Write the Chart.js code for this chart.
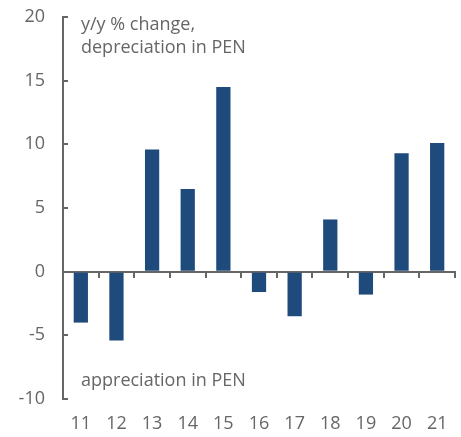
<!DOCTYPE html>
<html>
<head>
<meta charset="utf-8">
<script src="https://cdn.jsdelivr.net/npm/chart.js@4"></script>
<style>
  html, body { margin: 0; padding: 0; background: #fff; }
  #wrap { width: 461px; height: 437px; }
</style>
</head>
<body>
<div id="wrap"><canvas id="pen-chart"></canvas></div>
<script>
const years = ["11", "12", "13", "14", "15", "16", "17", "18", "19", "20", "21"];
const penChange = [-4.0, -5.4, 9.6, 6.5, 14.5, -1.6, -3.5, 4.1, -1.8, 9.3, 10.1];
const yTicks = [-10, -5, 0, 5, 10, 15, 20];
const topNote = ["y/y % change,", "depreciation in PEN"];
const bottomNote = "appreciation in PEN";

const grey = "#666666";
const textGrey = "#666666";
const font = { family: "Open Sans", size: 18 };

// annotation texts inside the plot
const notes = {
  id: "notes",
  afterDraw(chart) {
    const { ctx, chartArea, scales } = chart;
    ctx.save();
    ctx.fillStyle = textGrey;
    ctx.font = "18px 'Open Sans'";
    ctx.textBaseline = "middle";
    const x = chartArea.left + 18;
    topNote.forEach((t, i) => ctx.fillText(t, x, chartArea.top + 8 + i * 23));
    ctx.fillText(bottomNote, x, scales.y.getPixelForValue(-8.6));
    ctx.restore();
  },
};

new Chart(document.getElementById("pen-chart"), {
  type: "bar",
  data: {
    labels: years,
    datasets: [
      {
        data: penChange,
        backgroundColor: "#1f4a7c",
        borderWidth: 0,
        barPercentage: 0.4,
        categoryPercentage: 1,
      },
    ],
  },
  options: {
    responsive: true,
    maintainAspectRatio: false,
    animation: false,
    layout: { padding: { top: 17, right: 6, bottom: 0, left: 0 } },
    plugins: { legend: { display: false }, tooltip: { enabled: false } },
    scales: {
      x: {
        grid: { display: false, drawTicks: false },
        border: { display: false },
        ticks: { color: textGrey, font: font, padding: 14 },
        afterFit: (scale) => { scale.height = 38; scale.paddingLeft = 0; scale.paddingRight = 0; },
      },
      x2: {
        type: "category",
        position: { y: 0 },
        offset: true,
        grid: { offset: true, drawOnChartArea: false, color: grey, lineWidth: 2, tickLength: 5 },
        border: { color: grey, width: 2 },
        ticks: { display: false },
        afterFit: (scale) => { scale.height = 0; },
      },
      y: {
        min: -10,
        max: 20,
        afterBuildTicks: (scale) => { scale.ticks = yTicks.map((v) => ({ value: v })); },
        grid: { drawOnChartArea: false, color: grey, lineWidth: 2, tickLength: -5 },
        border: { color: grey, width: 2 },
        ticks: { color: textGrey, font: font, padding: 23 },
        afterFit: (scale) => { scale.width = 63; scale.paddingTop = 0; scale.paddingBottom = 0; },
      },
    },
  },
  plugins: [notes],
});
</script>
</body>
</html>
